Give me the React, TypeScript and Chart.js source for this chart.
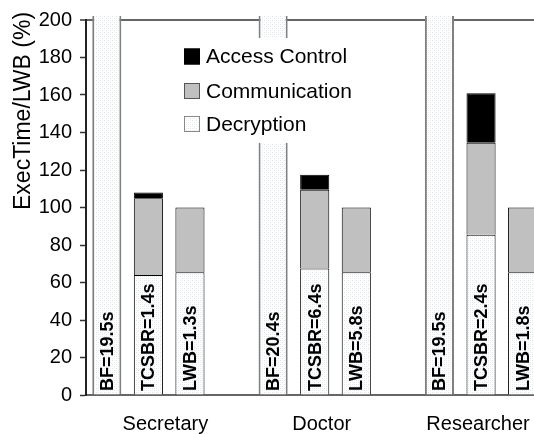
import React, { useEffect, useRef } from 'react';
import { Chart, registerables } from 'chart.js';
Chart.register(...registerables);

// ---- data ----
const slots = ['BF', 'TCSBR', 'LWB', '', 'BF', 'TCSBR', 'LWB', '', 'BF', 'TCSBR', 'LWB', ''];
const groupNames = ['Secretary', 'Doctor', 'Researcher'];
const groupLabelSlots = [1, 5, 9];
const groupLabelShift = [17, 7, -3];
const bfValues = [205, null, null, null, 205, null, null, null, 205, null, null, null];
const decryption = [null, 64, 65.5, null, null, 67.5, 65.5, null, null, 85.5, 65.5, null];
const communication = [null, 41, 34.5, null, null, 42, 34.5, null, null, 49, 34.5, null];
const accessControl = [null, 3, null, null, null, 8, null, null, null, 26.5, null, null];
const barLabels = ['BF=19.5s', 'TCSBR=1.4s', 'LWB=1.3s', '', 'BF=20.4s', 'TCSBR=6.4s', 'LWB=5.8s', '', 'BF=19.5s', 'TCSBR=2.4s', 'LWB=1.8s', ''];
const yTitle = 'ExecTime/LWB (%)';
const yMin = 0;
const yMax = 200;
const yStep = 20;

const FONT = "'Liberation Sans', Arial, sans-serif";

function makePattern(): CanvasPattern | string {
  const c = document.createElement('canvas');
  c.width = 4;
  c.height = 4;
  const g = c.getContext('2d');
  if (!g) return '#f4f7f8';
  g.fillStyle = '#ffffff';
  g.fillRect(0, 0, 4, 4);
  g.fillStyle = '#dfe7eb';
  g.fillRect(0, 0, 1, 1);
  g.fillRect(2, 2, 1, 1);
  g.fillStyle = '#eef2f4';
  g.fillRect(2, 0, 1, 1);
  g.fillRect(0, 2, 1, 1);
  const p = g.createPattern(c, 'repeat');
  return p || '#f4f7f8';
}

export default function App() {
  const ref = useRef<HTMLCanvasElement | null>(null);

  useEffect(() => {
    if (!ref.current) return;
    const pattern = makePattern();

    const legendItems = [
      { label: 'Access Control', fill: '#000000', border: '#000000' },
      { label: 'Communication', fill: '#c0c0c0', border: '#555555' },
      { label: 'Decryption', fill: pattern, border: '#888888' },
    ];

    const overlay = {
      id: 'overlay',
      afterDatasetsDraw(chart: any) {
        const ctx = chart.ctx as CanvasRenderingContext2D;
        const x = chart.scales.x;
        const area = chart.chartArea;
        // bar labels
        ctx.save();
        ctx.fillStyle = '#000';
        ctx.font = `bold 18px ${FONT}`;
        ctx.textAlign = 'left';
        ctx.textBaseline = 'middle';
        barLabels.forEach((t, i) => {
          if (!t) return;
          const px = x.getPixelForValue(i);
          ctx.save();
          ctx.translate(px + 1, area.bottom - 4);
          ctx.rotate(-Math.PI / 2);
          ctx.fillText(t, 0, 0);
          ctx.restore();
        });
        ctx.restore();

        // category labels
        ctx.save();
        ctx.fillStyle = '#000';
        ctx.font = `20px ${FONT}`;
        ctx.textAlign = 'center';
        ctx.textBaseline = 'alphabetic';
        groupNames.forEach((n, g) => {
          const px = x.getPixelForValue(groupLabelSlots[g]) + groupLabelShift[g];
          ctx.fillText(n, px, area.bottom + 35);
        });
        ctx.restore();

        // legend
        ctx.save();
        ctx.fillStyle = '#ffffff';
        ctx.fillRect(180, 38, 182, 105);
        const rows = [56.5, 91, 124];
        legendItems.forEach((it, k) => {
          const cy = rows[k];
          ctx.fillStyle = it.fill as any;
          ctx.fillRect(184, cy - 8, 16, 16);
          ctx.strokeStyle = it.border;
          ctx.lineWidth = 1;
          ctx.strokeRect(184.5, cy - 7.5, 15, 15);
          ctx.fillStyle = '#000';
          ctx.font = `21px ${FONT}`;
          ctx.textAlign = 'left';
          ctx.textBaseline = 'middle';
          ctx.fillText(it.label, 206, cy + 1);
        });
        ctx.restore();

        // y title
        ctx.save();
        ctx.fillStyle = '#000';
        ctx.font = `23px ${FONT}`;
        ctx.translate(30, 210);
        ctx.rotate(-Math.PI / 2);
        ctx.textAlign = 'left';
        ctx.textBaseline = 'alphabetic';
        ctx.fillText(yTitle, 0, 0);
        ctx.restore();
      },
    };

    const chart = new Chart(ref.current, {
      type: 'bar',
      data: {
        labels: slots,
        datasets: [
          {
            label: 'BF',
            data: bfValues as any,
            backgroundColor: pattern as any,
            borderColor: '#808080',
            borderWidth: { left: 2, right: 2, top: 0, bottom: 0 } as any,
            clip: { left: 0, top: 4, right: 0, bottom: 0 } as any,
          },
          {
            label: 'Decryption',
            data: decryption as any,
            backgroundColor: pattern as any,
            borderColor: '#000',
            borderWidth: 1,
          },
          {
            label: 'Communication',
            data: communication as any,
            backgroundColor: '#c0c0c0',
            borderColor: '#000',
            borderWidth: 1,
          },
          {
            label: 'Access Control',
            data: accessControl as any,
            backgroundColor: '#000000',
            borderColor: '#000',
            borderWidth: 1,
          },
        ],
      },
      options: {
        animation: false,
        responsive: false,
        devicePixelRatio: 1,
        layout: { padding: { top: 17, right: 15, left: 0, bottom: 0 } },
        datasets: { bar: { barPercentage: 0.7, categoryPercentage: 1 } },
        plugins: { legend: { display: false }, tooltip: { enabled: false }, title: { display: false } },
        scales: {
          x: {
            stacked: true,
            grid: { display: false },
            border: { display: true, color: '#666', width: 2 },
            ticks: {
              autoSkip: false,
              maxRotation: 0,
              callback: () => '',
            },
            afterFit: (s: any) => { s.height = 39; },
          },
          y: {
            stacked: true,
            min: yMin,
            max: yMax,
            border: { display: true, color: '#222', width: 2 },
            grid: {
              color: (c: any) => (c.tick && c.tick.value === yMax ? '#666' : 'rgba(0,0,0,0)'),
              lineWidth: (c: any) => (c.tick && c.tick.value === yMax ? 2 : 1),
              tickColor: '#333',
              tickWidth: 1.5,
              tickLength: 6,
            },
            ticks: {
              stepSize: yStep,
              color: '#000',
              font: { family: FONT, size: 20 },
              padding: 8,
            },
            afterFit: (s: any) => { s.width = 86; },
          },
        },
      },
      plugins: [overlay],
    } as any);
    return () => chart.destroy();
  }, []);

  return (
    <div style={{ position: 'absolute', left: 0, top: 0, width: 534, height: 434, overflow: 'hidden', background: '#fff' }}>
      <canvas ref={ref} width={600} height={434} style={{ display: 'block' }} />
    </div>
  );
}
